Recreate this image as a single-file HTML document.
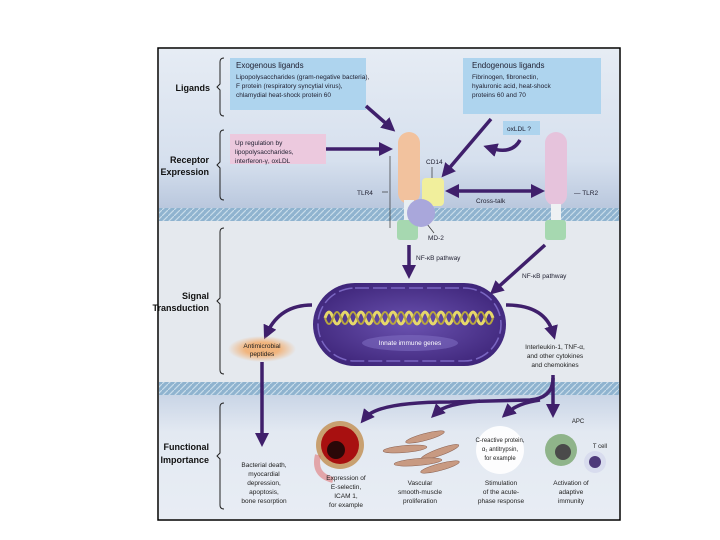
<!DOCTYPE html>
<html><head><meta charset="utf-8"><style>
html,body{margin:0;padding:0;background:#fff;width:720px;height:540px;overflow:hidden}
svg{display:block;font-family:"Liberation Sans",sans-serif}
</style></head><body>
<svg width="720" height="540" viewBox="0 0 720 540" xmlns="http://www.w3.org/2000/svg">
<defs>
<linearGradient id="top" x1="0" y1="0" x2="0" y2="1"><stop offset="0" stop-color="#e6ecf4"/><stop offset="0.7" stop-color="#d6e0ee"/><stop offset="1" stop-color="#b9c7dd"/></linearGradient>
<linearGradient id="bot" x1="0" y1="0" x2="0" y2="1"><stop offset="0" stop-color="#c9d5e6"/><stop offset="0.3" stop-color="#e3e9f2"/><stop offset="1" stop-color="#e8edf4"/></linearGradient>
<pattern id="mem" width="6" height="6" patternUnits="userSpaceOnUse"><rect width="6" height="6" fill="#8fb3cf"/><path d="M0 6L6 0" stroke="#c8dcea" stroke-width="1.2"/></pattern>
<radialGradient id="nuc" cx="0.5" cy="0.5" r="0.6"><stop offset="0" stop-color="#6a52b0"/><stop offset="1" stop-color="#3d2478"/></radialGradient>
<radialGradient id="orb" cx="0.5" cy="0.5" r="0.5"><stop offset="0.5" stop-color="#f1b57e"/><stop offset="1" stop-color="#f1b57e" stop-opacity="0"/></radialGradient>
<marker id="ah" markerWidth="4" markerHeight="4" refX="2" refY="2" orient="auto"><path d="M0,0L4,2L0,4z" fill="#3f1f6b"/></marker>
<marker id="ahs" markerWidth="4" markerHeight="4" refX="2" refY="2" orient="auto-start-reverse"><path d="M0,0L4,2L0,4z" fill="#3f1f6b"/></marker>
</defs>
<rect x="158" y="48" width="462" height="472" fill="#fff" stroke="#000" stroke-width="1.5"/>
<rect x="159" y="49" width="460" height="160" fill="url(#top)"/>
<rect x="159" y="221" width="460" height="162" fill="#e5e9ee"/>
<rect x="159" y="395" width="460" height="124" fill="url(#bot)"/>
<rect x="159" y="208" width="460" height="13" fill="url(#mem)"/>
<rect x="159" y="382" width="460" height="13" fill="url(#mem)"/>
<g fill="none" stroke="#222" stroke-width="1">
<path d="M224 58q-4 0-4 4v22l-3 3 3 3v22q0 4 4 4"/>
<path d="M224 130q-4 0-4 4v28l-3 3 3 3v28q0 4 4 4"/>
<path d="M224 228q-4 0-4 4v66l-3 3 3 3v66q0 4 4 4"/>
<path d="M224 403q-4 0-4 4v46l-3 3 3 3v46q0 4 4 4"/>
</g>
<g font-weight="bold" font-size="9" fill="#111" text-anchor="end">
<text x="210" y="91">Ligands</text>
<text x="209" y="163">Receptor</text><text x="209" y="175">Expression</text>
<text x="209" y="299">Signal</text><text x="209" y="311">Transduction</text>
<text x="209" y="450">Functional</text><text x="209" y="463">Importance</text>
</g>
<rect x="230" y="58" width="136" height="52" fill="#aed4ee"/>
<rect x="463" y="58" width="138" height="56" fill="#aed4ee"/>
<rect x="230" y="134" width="96" height="30" fill="#ecc9de"/>
<rect x="503" y="121" width="37" height="14" fill="#aed4ee"/>
<g font-size="6.5" fill="#223">
<text x="236" y="68" font-size="8">Exogenous ligands</text>
<text x="236" y="79">Lipopolysaccharides (gram-negative bacteria),</text>
<text x="236" y="88">F protein (respiratory syncytial virus),</text>
<text x="236" y="97">chlamydial heat-shock protein 60</text>
<text x="472" y="68" font-size="8">Endogenous ligands</text>
<text x="472" y="79">Fibrinogen, fibronectin,</text>
<text x="472" y="88">hyaluronic acid, heat-shock</text>
<text x="472" y="97">proteins 60 and 70</text>
<text x="235" y="145">Up regulation by</text>
<text x="235" y="154">lipopolysaccharides,</text>
<text x="235" y="163">interferon-γ, oxLDL</text>
<text x="507" y="131">oxLDL ?</text>
<text x="426" y="164">CD14</text>
<text x="357" y="195">TLR4</text>
<text x="574" y="195">— TLR2</text>
<text x="476" y="203">Cross-talk</text>
<text x="428" y="240">MD-2</text>
<text x="416" y="260">NF-κB pathway</text>
<text x="522" y="278">NF-κB pathway</text>
</g>
<line x1="382" y1="192" x2="388" y2="192" stroke="#333" stroke-width="0.7"/>
<line x1="390" y1="156" x2="390" y2="228" stroke="#333" stroke-width="0.7"/>
<line x1="432" y1="167" x2="432" y2="178" stroke="#333" stroke-width="0.7"/>
<line x1="427" y1="224" x2="434" y2="233" stroke="#333" stroke-width="0.7"/>
<!-- receptors -->
<rect x="398" y="132" width="22" height="72" rx="11" fill="#f2c29e"/>
<rect x="404" y="200" width="10" height="22" fill="#e8eef2"/>
<rect x="397" y="220" width="21" height="20" rx="3" fill="#a6d8b0"/>
<rect x="422" y="178" width="22" height="28" rx="4" fill="#f1ef9c"/>
<circle cx="421" cy="213" r="14" fill="#a9a7db"/>
<rect x="545" y="132" width="22" height="74" rx="11" fill="#e6c3dc"/>
<rect x="551" y="204" width="10" height="18" fill="#eef1f3"/>
<rect x="545" y="220" width="21" height="20" rx="3" fill="#a6d8b0"/>
<!-- arrows -->
<g stroke="#3f1f6b" stroke-width="3.5" fill="none" marker-end="url(#ah)">
<path d="M366 106L390 127"/>
<path d="M491 119L446 172"/>
<path d="M520 140Q512 155 490 148"/>
<path d="M326 149L386 149"/>
<path d="M452 191L538 191" marker-start="url(#ahs)"/>
<path d="M409 245L409 272"/>
<path d="M545 245L495 290"/>
<path d="M312 305Q280 305 267 333"/>
<path d="M506 305Q545 305 553 333"/>
<path d="M262 362L262 440"/>
<path d="M553 375L553 411"/>
<path d="M553 378Q553 398 530 400L450 402Q378 402 365 418"/>
<path d="M480 401Q445 404 436 413"/>
<path d="M540 400Q518 403 507 413"/>
</g>
<!-- nucleus -->
<rect x="313" y="283" width="193" height="83" rx="42" fill="url(#nuc)"/>
<rect x="318" y="288" width="183" height="73" rx="37" fill="none" stroke="#7a66c2" stroke-width="1.5" stroke-dasharray="14 4"/>
<path d="M325 318q4-12 8 0t8 0 8 0 8 0 8 0 8 0 8 0 8 0 8 0 8 0 8 0 8 0 8 0 8 0 8 0 8 0 8 0 8 0 8 0 8 0 8 0" stroke="#e6d86a" stroke-width="3" fill="none"/>
<path d="M325 318q4 12 8 0t8 0 8 0 8 0 8 0 8 0 8 0 8 0 8 0 8 0 8 0 8 0 8 0 8 0 8 0 8 0 8 0 8 0 8 0 8 0 8 0" stroke="#b8a640" stroke-width="2" fill="none"/>
<ellipse cx="410" cy="343" rx="48" ry="8" fill="#7d6bc0" opacity="0.6"/>
<text x="410" y="345" font-size="6.5" fill="#fff" text-anchor="middle">Innate immune genes</text>
<ellipse cx="262" cy="349" rx="34" ry="13" fill="url(#orb)"/>
<g font-size="6.5" fill="#222" text-anchor="middle">
<text x="262" y="348">Antimicrobial</text><text x="262" y="356">peptides</text>
<text x="555" y="349">Interleukin-1, TNF-α,</text>
<text x="555" y="358">and other cytokines</text>
<text x="555" y="367">and chemokines</text>
</g>
<!-- bottom images -->
<circle cx="340" cy="445" r="24" fill="#c8a070"/>
<circle cx="340" cy="445" r="19" fill="#a81010"/>
<circle cx="336" cy="450" r="9" fill="#2a0808"/>
<path d="M318 455q-5 20 15 25" stroke="#e06060" stroke-width="6" fill="none" opacity="0.5"/>
<g fill="#c89a82" stroke="#8a6050" stroke-width="0.5">
<ellipse cx="425" cy="437" rx="20" ry="3.5" transform="rotate(-15 425 437)"/>
<ellipse cx="405" cy="449" rx="22" ry="3.5" transform="rotate(-5 405 449)"/>
<ellipse cx="440" cy="452" rx="20" ry="3.5" transform="rotate(-20 440 452)"/>
<ellipse cx="418" cy="462" rx="24" ry="3.5" transform="rotate(-5 418 462)"/>
<ellipse cx="440" cy="467" rx="20" ry="3.5" transform="rotate(-15 440 467)"/>
</g>
<circle cx="500" cy="450" r="24" fill="#fff" opacity="0.9"/>
<circle cx="561" cy="450" r="16" fill="#8fb48a"/>
<circle cx="563" cy="452" r="8" fill="#4a4a4a"/>
<circle cx="595" cy="462" r="11" fill="#d8dcee"/>
<circle cx="595" cy="462" r="6" fill="#4e3a7a"/>
<g font-size="6" fill="#222" text-anchor="middle">
<text x="500" y="442">C-reactive protein,</text><text x="500" y="451">α₁ antitrypsin,</text><text x="500" y="460">for example</text>
<text x="578" y="423">APC</text><text x="600" y="448">T cell</text>
</g>
<g font-size="6.5" fill="#222" text-anchor="middle">
<text x="264" y="467">Bacterial death,</text><text x="264" y="476">myocardial</text><text x="264" y="485">depression,</text><text x="264" y="494">apoptosis,</text><text x="264" y="503">bone resorption</text>
<text x="346" y="480">Expression of</text><text x="346" y="489">E-selectin,</text><text x="346" y="498">ICAM 1,</text><text x="346" y="507">for example</text>
<text x="420" y="485">Vascular</text><text x="420" y="494">smooth-muscle</text><text x="420" y="503">proliferation</text>
<text x="501" y="485">Stimulation</text><text x="501" y="494">of the acute-</text><text x="501" y="503">phase response</text>
<text x="571" y="485">Activation of</text><text x="571" y="494">adaptive</text><text x="571" y="503">immunity</text>
</g>
</svg>
</body></html>
